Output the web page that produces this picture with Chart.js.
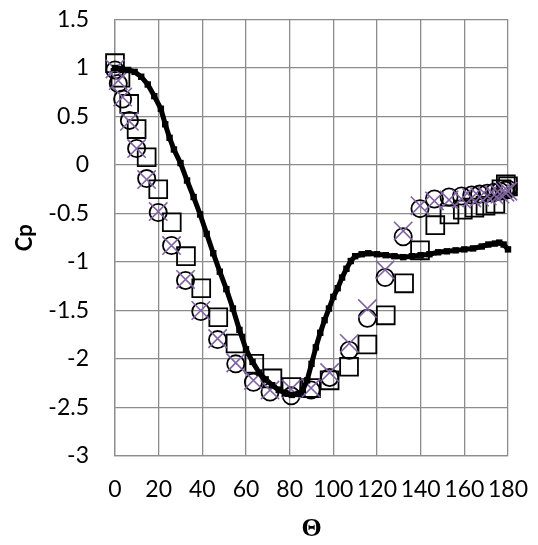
<!DOCTYPE html>
<html>
<head>
<meta charset="utf-8">
<script src="https://cdn.jsdelivr.net/npm/chart.js@4"></script>
<style>
html,body{margin:0;padding:0;background:#fff;}
#wrap{width:538px;height:545px;}
</style>
</head>
<body>
<div id="wrap"><canvas id="c" width="538" height="545"></canvas></div>
<script>
// ---- data ----
const xTicks = [0, 20, 40, 60, 80, 100, 120, 140, 160, 180];
const yTicks = [1.5, 1, 0.5, 0, -0.5, -1, -1.5, -2, -2.5, -3];

const lineTheta = [0,3,6,9,12,15,18,21,23,25,27,30,33,36,39,42,45,48,51,54,57,60,63,66,69,72,75,78,81,84,86,88,90,92,94,96,98,100,102,104,106,108,110,113,116,120,124,128,132,136,140,144,148,152,156,160,164,168,171,174,176,178,180];
const lineCp    = [1.00,0.99,0.98,0.96,0.91,0.83,0.71,0.58,0.42,0.28,0.16,0.02,-0.16,-0.33,-0.51,-0.71,-0.91,-1.10,-1.28,-1.48,-1.70,-1.90,-2.03,-2.14,-2.21,-2.27,-2.32,-2.35,-2.37,-2.36,-2.32,-2.22,-2.05,-1.88,-1.73,-1.60,-1.48,-1.36,-1.27,-1.16,-1.07,-0.99,-0.94,-0.92,-0.91,-0.92,-0.93,-0.94,-0.95,-0.94,-0.93,-0.92,-0.90,-0.89,-0.88,-0.87,-0.86,-0.84,-0.82,-0.81,-0.80,-0.82,-0.87];

const circTheta = [0,1.5,3.5,6.6,9.9,14.5,19.8,25.9,32.3,39.3,47,55.3,63.4,71,80.7,89.8,98.3,107.3,115.6,123.7,132,139.7,146.3,153,158.7,163.4,167,170.5,173.7,176.3,178.6,180];
const circCp    = [0.98,0.84,0.68,0.46,0.17,-0.14,-0.49,-0.83,-1.19,-1.51,-1.80,-2.05,-2.24,-2.34,-2.38,-2.32,-2.19,-1.91,-1.58,-1.16,-0.74,-0.45,-0.35,-0.33,-0.32,-0.31,-0.30,-0.29,-0.28,-0.27,-0.26,-0.25];

const crossTheta = circTheta;
const crossCp    = [0.99,0.87,0.70,0.45,0.17,-0.15,-0.48,-0.83,-1.18,-1.50,-1.79,-2.04,-2.22,-2.32,-2.31,-2.30,-2.14,-1.84,-1.48,-1.08,-0.68,-0.42,-0.37,-0.36,-0.35,-0.34,-0.33,-0.32,-0.31,-0.30,-0.28,-0.27];

const sqTheta = [0,2.5,6.5,9.9,14.5,19.8,26,32.5,39.5,47.3,55.2,63.8,72.1,80.8,89.8,98.3,107.2,115.6,124,132.4,139.7,146.7,153.2,159.3,164.6,169.7,174.2,177,179,180];
const sqCp    = [1.05,0.90,0.63,0.37,0.08,-0.25,-0.59,-0.94,-1.27,-1.57,-1.84,-2.05,-2.20,-2.29,-2.30,-2.22,-2.08,-1.85,-1.55,-1.22,-0.88,-0.62,-0.51,-0.46,-0.44,-0.42,-0.40,-0.25,-0.20,-0.22];

function pts(xs, ys){ return xs.map((x,i)=>({x:x, y:ys[i]})); }

const gridColor = '#8c8c8c';
const tickFont = {family:'Lato, "Open Sans", sans-serif', size:23};

new Chart(document.getElementById('c'), {
  type: 'scatter',
  data: {
    datasets: [
      {
        label: 'line',
        data: pts(lineTheta, lineCp),
        showLine: true,
        borderColor: '#000',
        backgroundColor: '#000',
        borderWidth: 5,
        pointRadius: 1,
        pointHoverRadius: 0,
        pointStyle: 'rect',
        tension: 0
      },
      {
        label: 'cross',
        data: pts(crossTheta, crossCp),
        pointStyle: 'crossRot',
        pointRadius: 13,
        pointHoverRadius: 0,
        borderColor: '#8064a2',
        backgroundColor: 'rgba(0,0,0,0)',
        pointBorderWidth: 1.6
      },
      {
        label: 'circle',
        data: pts(circTheta, circCp),
        pointStyle: 'circle',
        pointRadius: 8.6,
        pointHoverRadius: 0,
        borderColor: '#000',
        backgroundColor: 'rgba(0,0,0,0)',
        pointBorderWidth: 1.8
      },
      {
        label: 'square',
        data: pts(sqTheta, sqCp),
        pointStyle: 'rect',
        pointRadius: 12.6,
        pointHoverRadius: 0,
        borderColor: '#000',
        backgroundColor: 'rgba(0,0,0,0)',
        pointBorderWidth: 1.8
      }
    ]
  },
  options: {
    responsive: false,
    animation: false,
    events: [],
    clip: false,
    layout: {autoPadding: false, padding: {top: 19.5, right: 30, left: 0, bottom: 0}},
    plugins: {legend: {display: false}, tooltip: {enabled: false}},
    scales: {
      x: {
        type: 'linear',
        min: 0, max: 180,
        afterBuildTicks: (s) => { s.ticks = xTicks.map(v => ({value: v})); },
        afterFit: (s) => { s.height = 89; s.paddingLeft = 0; s.paddingRight = 0; },
        grid: {color: gridColor, lineWidth: 1.3, drawTicks: false},
        border: {color: gridColor, width: 1.3},
        ticks: {color: '#000', font: tickFont, padding: 20, maxRotation: 0, autoSkip: false,
                callback: (v) => String(v)},
        title: {display: true, text: 'Θ', color: '#000',
                font: {family: '"Liberation Serif", "DejaVu Serif", serif', size: 26, weight: 'bold'},
                padding: {top: 0, bottom: 0}}
      },
      y: {
        type: 'linear',
        min: -3, max: 1.5,
        afterBuildTicks: (s) => { s.ticks = yTicks.map(v => ({value: v})); },
        afterFit: (s) => { s.width = 115; s.paddingTop = 0; s.paddingBottom = 0; },
        grid: {color: gridColor, lineWidth: 1.3, drawTicks: false},
        border: {color: gridColor, width: 1.3},
        ticks: {color: '#000', font: tickFont, padding: 26, autoSkip: false,
                callback: (v) => String(v)},
        title: {display: true, text: 'Cp', color: '#000',
                font: {family: 'Lato, "Open Sans", sans-serif', size: 22, weight: 'bold'},
                padding: {top: 12, bottom: 0}}
      }
    }
  }
});
</script>
</body>
</html>
